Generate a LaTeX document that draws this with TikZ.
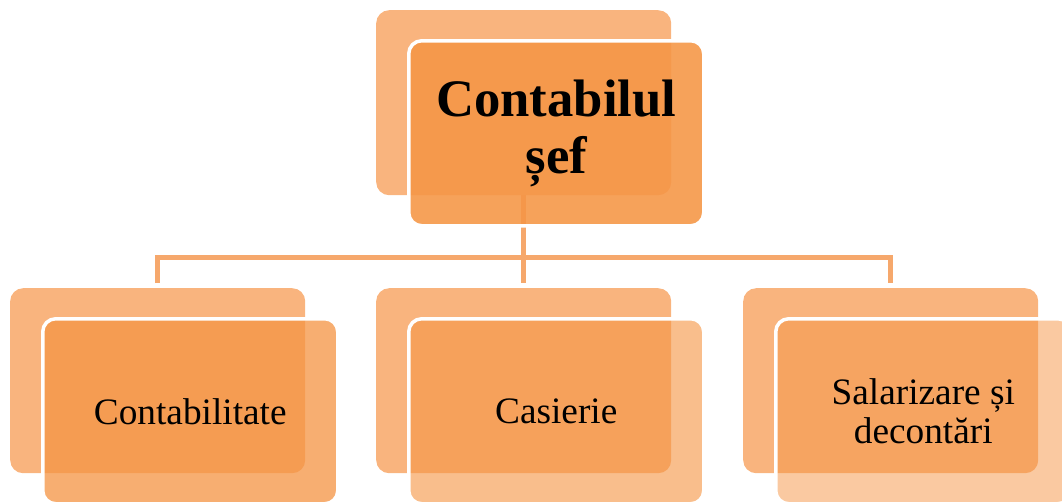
\documentclass[tikz,border=0pt]{standalone}
\usepackage{fontspec}
\setmainfont{Liberation Serif}
\definecolor{backc}{RGB}{249,180,126}
\definecolor{frontc}{RGB}{245,150,70}
\definecolor{linec}{RGB}{246,168,108}
\begin{document}
\begin{tikzpicture}[x=1pt,y=-1pt,
  backbox/.style={fill=backc, rounded corners=13pt, minimum width=295pt, minimum height=185pt, anchor=north west, inner sep=0pt},
  frontbox/.style={fill=frontc, draw=white, line width=3.5pt, rounded corners=13pt, minimum width=295pt, minimum height=185pt, anchor=north west, inner sep=0pt, align=center, text opacity=1, font=\fontsize{37.3}{39}\selectfont},
  conn/.style={draw=linec, line width=5pt, line join=miter}]
\useasboundingbox (0,0) rectangle (1062,501);
\clip (0,0) rectangle (1062,501);
% back boxes
\node[backbox] (tb) at (376,10) {};
\node[backbox] (b1) at (10,288) {};
\node[backbox] (b2) at (376,288) {};
\node[backbox] (b3) at (743,288) {};
% connectors
\coordinate (hy) at (0,257.5);
\draw[conn] (tb.south) -- ([yshift=5pt]b2.north);
\draw[conn] ([yshift=5pt]b1.north) -- (b1.north |- hy) -- (b3.north |- hy) -- ([yshift=5pt]b3.north);
% front boxes
\node[frontbox, fill opacity=0.89, font=\fontsize{52.7}{57}\selectfont\bfseries] (tf) at (407,39) {Contabilul\\șef};
\node[frontbox, fill opacity=0.77] (f1) at (41,317) {Contabilitate};
\node[frontbox, fill opacity=0.62] (f2) at (407,317) {Casierie};
\node[frontbox, fill opacity=0.51] (f3) at (774,317) {Salarizare și\\decontări};
\end{tikzpicture}
\end{document}
